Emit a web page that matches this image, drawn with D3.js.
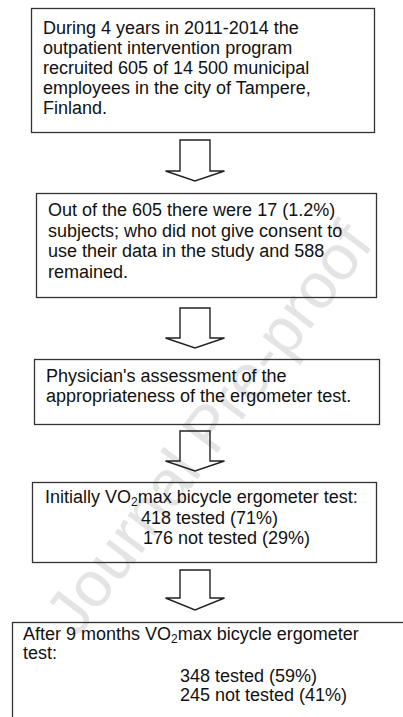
<!DOCTYPE html>
<html><head><meta charset="utf-8">
<script src="https://cdn.jsdelivr.net/npm/d3@7"></script>
<style>
html,body{margin:0;padding:0;background:#fff;}
svg{display:block;}
text{font-family:"Liberation Sans",Arial,sans-serif;}
</style></head>
<body>
<svg id="c" width="403" height="717"></svg>
<script>
// ---- content ----
const box1Lines = [
  "During 4 years in 2011-2014 the",
  "outpatient intervention program",
  "recruited 605 of 14 500 municipal",
  "employees in the city of Tampere,",
  "Finland."
];
const box2Lines = [
  "Out of the 605 there were 17 (1.2%)",
  "subjects; who did not give consent to",
  "use their data in the study and 588",
  "remained."
];
const box3Lines = [
  "Physician's assessment of the",
  "appropriateness of the ergometer test."
];
const box4Lines = [
  "Initially VO|2|max bicycle ergometer test:",
  "418 tested (71%)",
  "176 not tested (29%)"
];
const box5Lines = [
  "After 9 months VO|2|max bicycle ergometer",
  "test:",
  "348 tested (59%)",
  "245 not tested (41%)"
];
const watermark = "Journal Pre-proof";

// ---- layout ----
const svg = d3.select("#c");

const boxes = [
  {lines: box1Lines, x0: 31, x1: 374, y0: 8,   y1: 132, tx: [43,43,43,43,43],  ty: [34,54,74,94,114]},
  {lines: box2Lines, x0: 36, x1: 376, y0: 193, y1: 297, tx: [48,48,48,48],     ty: [216,236.5,257,277.5]},
  {lines: box3Lines, x0: 34, x1: 379, y0: 359, y1: 424, tx: [46,46],           ty: [382,402]},
  {lines: box4Lines, x0: 32, x1: 376, y0: 482, y1: 562, tx: [45,141,143],      ty: [503,524,544]},
  {lines: box5Lines, x0: 12, x1: 420, y0: 622, y1: 740, tx: [23,23,180,180],   ty: [640,659,682,701]}
];
const arrows = [
  {top: 140, head: 171, tip: 181},
  {top: 308, head: 338, tip: 348},
  {top: 431, head: 461, tip: 471},
  {top: 570, head: 598, tip: 610}
];
const ax = 195, stemHalf = 15, headHalf = 29.5;

// faint watermark (behind)
const wm = svg.append("g").attr("transform", "translate(208,428) rotate(-53)");
wm.append("text")
  .attr("text-anchor", "middle")
  .attr("dy", "0.35em")
  .attr("font-size", 64)
  .attr("fill", "#e4e4e4")
  .text(watermark);

// boxes
const g = svg.append("g");
g.selectAll("rect.box").data(boxes).join("rect")
  .attr("class", "box")
  .attr("x", d => d.x0 + 0.5).attr("y", d => d.y0 + 0.5)
  .attr("width", d => d.x1 - d.x0).attr("height", d => d.y1 - d.y0)
  .attr("fill", "none").attr("stroke", "#333").attr("stroke-width", 1.3);

boxes.forEach(b => {
  b.lines.forEach((line, i) => {
    const t = g.append("text")
      .attr("x", b.tx[i]).attr("y", b.ty[i])
      .attr("font-size", 18).attr("fill", "#111");
    const parts = line.split("|");
    if (parts.length === 1) { t.text(line); return; }
    t.append("tspan").text(parts[0]);
    t.append("tspan").attr("font-size", 12).attr("dy", 3).text(parts[1]);
    t.append("tspan").attr("dy", -3).text(parts[2]);
  });
});

// arrows
const line = d3.line();
g.selectAll("path.arrow").data(arrows).join("path")
  .attr("class", "arrow")
  .attr("d", a => line([
    [ax - stemHalf, a.top], [ax + stemHalf, a.top], [ax + stemHalf, a.head],
    [ax + headHalf, a.head], [ax, a.tip], [ax - headHalf, a.head],
    [ax - stemHalf, a.head]
  ]) + "Z")
  .attr("fill", "none").attr("stroke", "#222").attr("stroke-width", 1.4)
  .attr("stroke-linejoin", "miter");
</script>
</body></html>
